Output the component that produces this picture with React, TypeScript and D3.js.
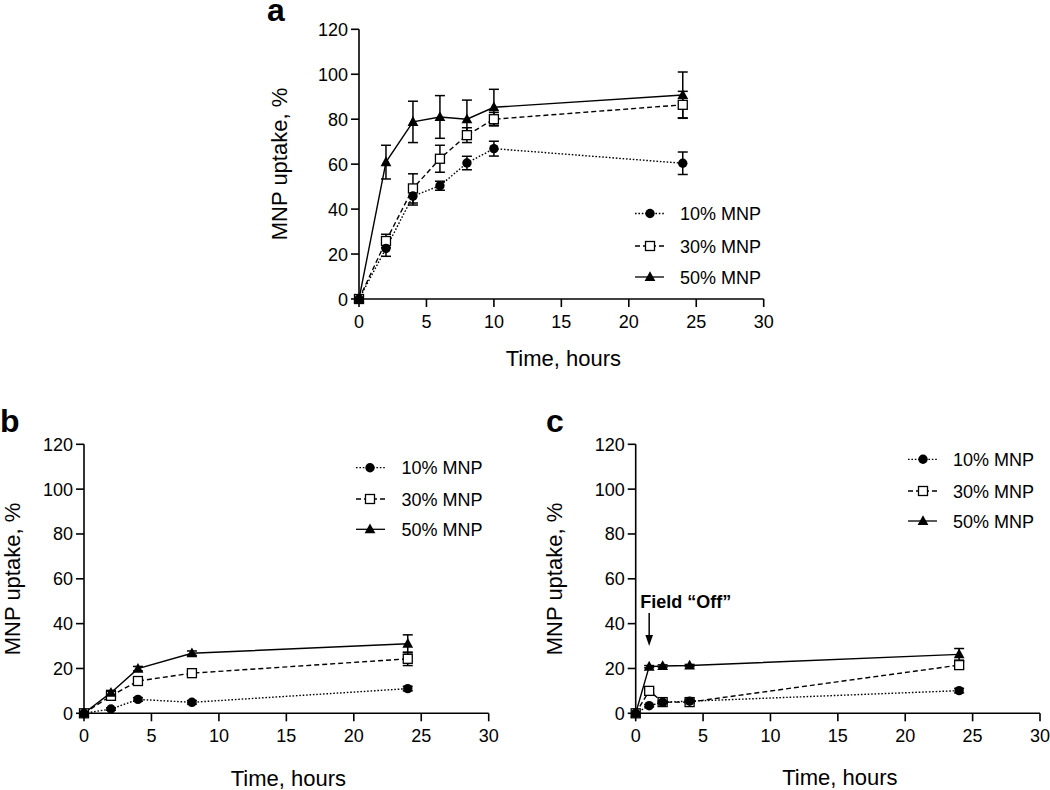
import React from "react";
import * as d3 from "d3";

// ---------- DATA ----------
const seriesNames = ["10% MNP", "30% MNP", "50% MNP"];
const xTicks = [0, 5, 10, 15, 20, 25, 30];
const yTicks = [0, 20, 40, 60, 80, 100, 120];

// Panel a
const timesA = [0, 2, 4, 6, 8, 10, 24];
const a10 = [0, 22.5, 45.8, 50.4, 60.5, 66.9, 60.4];
const a10Err = [0, 3.5, 4, 2, 3, 3.3, 5];
const a30 = [0, 25.8, 49.2, 62.4, 72.9, 80, 86.4];
const a30Err = [0, 3, 6.5, 6, 3.3, 3, 6];
const a50 = [0, 60.9, 78.8, 81, 80, 85.3, 90.8];
const a50Err = [0, 7.5, 9.2, 9.5, 8.5, 8, 10.2];

// Panel b
const timesB = [0, 2, 4, 8, 24];
const b10 = [0, 1.9, 6.2, 4.9, 11];
const b10Err = [0, 0.5, 0.8, 0.8, 1];
const b30 = [0, 7.8, 14.4, 17.9, 24.3];
const b30Err = [0, 1, 1.5, 1, 3];
const b50 = [0, 9.2, 19.9, 26.8, 31];
const b50Err = [0, 1, 1, 1, 4];

// Panel c
const timesC = [0, 1, 2, 4, 24];
const c10 = [0, 3.4, 4.9, 5.4, 10.1];
const c10Err = [0, 0.5, 0.5, 0.5, 1];
const c30 = [0, 10, 5, 5, 21.5];
const c30Err = [0, 1, 0.5, 0.5, 1.5];
const c50 = [0, 20.8, 21.1, 21.3, 26.3];
const c50Err = [0, 0.5, 0.5, 0.5, 2.6];

const annotationText = "Field \u201cOff\u201d";
const annotationTime = 1;

const FONT = "'Liberation Sans', Arial, Helvetica, sans-serif";

type Series = { name: string; t: number[]; v: number[]; e: number[]; kind: "circle" | "square" | "triangle"; dash: string };

function Marker({ kind, x, y }: { kind: string; x: number; y: number }) {
  if (kind === "circle") return <circle cx={x} cy={y} r={4.7} fill="#000" />;
  if (kind === "square")
    return <rect x={x - 4.5} y={y - 4.5} width={9} height={9} fill="#fff" stroke="#000" strokeWidth={1.3} />;
  return <path d={`M${x},${y - 5.8}L${x + 5.4},${y + 4}L${x - 5.4},${y + 4}Z`} fill="#000" />;
}

function Panel(props: {
  label: string;
  labelPos: [number, number];
  xRange: [number, number];
  yRange: [number, number];
  series: Series[];
  drawOrder: number[];
  legendX: [number, number, number, number];
  legendY: number[];
  yTitlePos: [number, number];
  xTitleY: number;
  annotation?: boolean;
}) {
  const x = d3.scaleLinear().domain([0, 30]).range(props.xRange);
  const y = d3.scaleLinear().domain([0, 120]).range(props.yRange);
  const [x0, x1] = props.xRange;
  const [y0, y1] = props.yRange;
  const tick = 8;
  const line = d3
    .line<[number, number]>()
    .x((d) => x(d[0]))
    .y((d) => y(d[1]));

  return (
    <g fontFamily={FONT}>
      <text x={props.labelPos[0]} y={props.labelPos[1]} fontSize={32} fontWeight="bold">
        {props.label}
      </text>
      {props.drawOrder.map((i) => {
        const s = props.series[i];
        const pts = s.t.map((t, j) => [t, s.v[j]] as [number, number]);
        return (
          <path key={"l" + i} d={line(pts) || ""} fill="none" stroke="#000" strokeWidth={1.4} strokeDasharray={s.dash} />
        );
      })}
      {props.drawOrder.map((i) => {
        const s = props.series[i];
        return (
          <g key={"e" + i} stroke="#000" strokeWidth={1.5}>
            {s.t.map((t, j) =>
              s.e[j] > 0 ? (
                <g key={j}>
                  <line x1={x(t)} x2={x(t)} y1={y(s.v[j] - s.e[j])} y2={y(s.v[j] + s.e[j])} />
                  <line x1={x(t) - 5} x2={x(t) + 5} y1={y(s.v[j] + s.e[j])} y2={y(s.v[j] + s.e[j])} />
                  <line x1={x(t) - 5} x2={x(t) + 5} y1={y(s.v[j] - s.e[j])} y2={y(s.v[j] - s.e[j])} />
                </g>
              ) : null
            )}
          </g>
        );
      })}
      {props.drawOrder.map((i) => {
        const s = props.series[i];
        return (
          <g key={"m" + i}>
            {s.t.map((t, j) => (
              <Marker key={j} kind={s.kind} x={x(t)} y={y(s.v[j])} />
            ))}
          </g>
        );
      })}
      <g stroke="#000" strokeWidth={1.6} fill="none">
        <line x1={x0} x2={x0} y1={y0 + 0.8} y2={y1} />
        <line x1={x0} x2={x1} y1={y0} y2={y0} />
        {yTicks.map((v) => (
          <line key={"yt" + v} x1={x0 - tick} x2={x0} y1={y(v)} y2={y(v)} />
        ))}
        {xTicks.map((v) => (
          <line key={"xt" + v} x1={x(v)} x2={x(v)} y1={y0} y2={y0 + tick} />
        ))}
      </g>
      <g fontSize={18} fill="#000">
        {yTicks.map((v) => (
          <text key={"yl" + v} x={x0 - tick - 3} y={y(v) + 6.5} textAnchor="end">
            {v}
          </text>
        ))}
        {xTicks.map((v) => (
          <text key={"xl" + v} x={x(v)} y={y0 + 28.5} textAnchor="middle">
            {v}
          </text>
        ))}
      </g>
      <text x={(x0 + x1) / 2 + 2} y={props.xTitleY} fontSize={22} textAnchor="middle">
        Time, hours
      </text>
      <text
        transform={`translate(${props.yTitlePos[0]},${props.yTitlePos[1]}) rotate(-90)`}
        fontSize={22}
        textAnchor="middle"
      >
        MNP uptake, %
      </text>
      {props.series.map((s, i) => {
        const ly = props.legendY[i];
        const [ls, lm, le, lt] = props.legendX;
        return (
          <g key={"lg" + i}>
            <line x1={ls} x2={le} y1={ly} y2={ly} stroke="#000" strokeWidth={1.3} strokeDasharray={s.dash} />
            <Marker kind={s.kind} x={lm} y={ly} />
            <text x={lt} y={ly + 6.5} fontSize={18}>
              {s.name}
            </text>
          </g>
        );
      })}
      {props.annotation ? (
        <g>
          <text x={x(annotationTime) - 9} y={608} fontSize={18} fontWeight="bold">
            {annotationText}
          </text>
          <line x1={x(annotationTime)} x2={x(annotationTime)} y1={613} y2={638} stroke="#000" strokeWidth={1.5} />
          <path
            d={`M${x(annotationTime) - 3.8},${635}L${x(annotationTime) + 3.8},${635}L${x(annotationTime)},${646}Z`}
            fill="#000"
          />
        </g>
      ) : null}
    </g>
  );
}

function mk(t: number[], v10: number[], e10: number[], v30: number[], e30: number[], v50: number[], e50: number[]): Series[] {
  return [
    { name: seriesNames[0], t, v: v10, e: e10, kind: "circle", dash: "1.6,1.8" },
    { name: seriesNames[1], t, v: v30, e: e30, kind: "square", dash: "5,3" },
    { name: seriesNames[2], t, v: v50, e: e50, kind: "triangle", dash: "" },
  ];
}

export default function App() {
  const sA = mk(timesA, a10, a10Err, a30, a30Err, a50, a50Err);
  const sB = mk(timesB, b10, b10Err, b30, b30Err, b50, b50Err);
  const sC = mk(timesC, c10, c10Err, c30, c30Err, c50, c50Err);
  return (
    <svg
      width={1050}
      height={790}
      style={{ position: "absolute", left: 0, top: 0, background: "#fff" }}
    >
      <rect width={1050} height={790} fill="#fff" />
      <Panel
        label="a"
        labelPos={[267, 21]}
        xRange={[359, 763.7]}
        yRange={[299, 29.3]}
        series={sA}
        drawOrder={[1, 0, 2]}
        legendX={[635, 650, 664, 680]}
        legendY={[213.5, 246, 277]}
        yTitlePos={[287, 164]}
        xTitleY={366}
      />
      <Panel
        label="b"
        labelPos={[0, 432]}
        xRange={[84, 488.7]}
        yRange={[713.3, 444.3]}
        series={sB}
        drawOrder={[1, 0, 2]}
        legendX={[356, 370, 385, 401.5]}
        legendY={[467.7, 499, 529.3]}
        yTitlePos={[20, 579]}
        xTitleY={785.5}
      />
      <Panel
        label="c"
        labelPos={[546, 432]}
        xRange={[635.7, 1040]}
        yRange={[713.3, 444.3]}
        series={sC}
        drawOrder={[1, 0, 2]}
        legendX={[908, 923, 937, 953]}
        legendY={[459.3, 491, 521]}
        yTitlePos={[562, 579]}
        xTitleY={785}
        annotation
      />
    </svg>
  );
}
